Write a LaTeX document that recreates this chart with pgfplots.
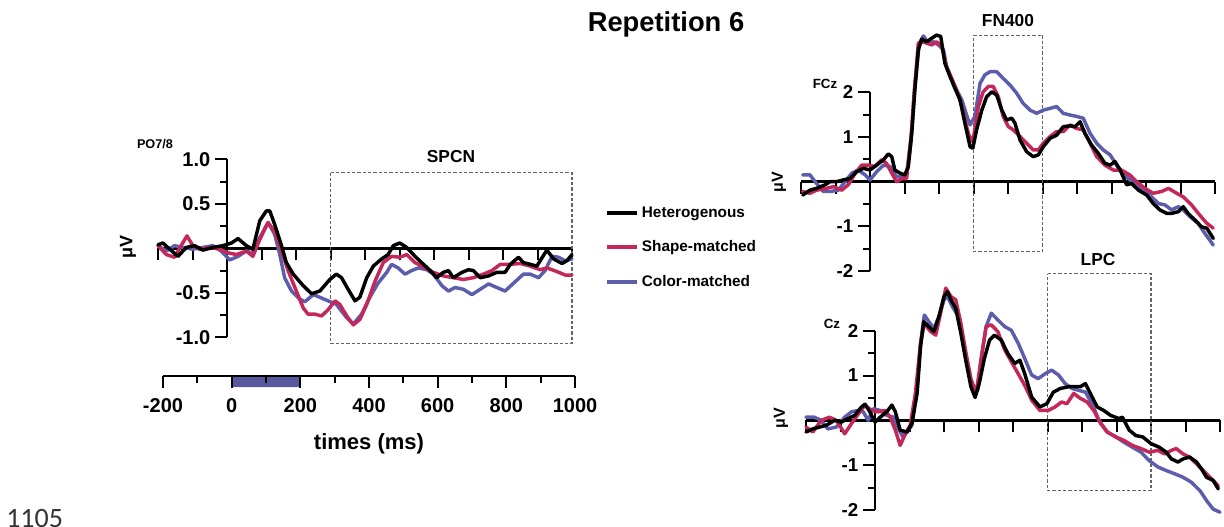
\documentclass[border=0pt]{standalone}
\usepackage{fontspec}
\setmainfont{Liberation Sans}
\newfontfamily\carlito{Carlito}
\usepackage{pgfplots}
\pgfplotsset{compat=1.18}
\definecolor{redc}{RGB}{196,40,90}
\definecolor{bluec}{RGB}{92,94,172}
\definecolor{barc}{RGB}{88,88,158}
\definecolor{boxgray}{RGB}{100,100,100}
\pgfplotsset{
 erp/.style={
  scale only axis, axis lines=middle, axis line style={line width=1.8pt,-},
  tick align=outside, major tick length=9pt, minor tick length=5pt,
  tick style={line width=1.5pt, black},
  xmin=-200, xmax=1000, xtick={-200,-100,...,1000}, xticklabels={},
  clip=false,
  /pgf/number format/assume math mode=true,
 },
 curve/.style={line width=2.6pt, line join=round, line cap=round},
 roi/.style={boxgray, line width=0.8pt, dash pattern=on 2.5pt off 1.5pt, forget plot},
}
\begin{document}
\begin{tikzpicture}
\path[use as bounding box] (0,0) rectangle (918pt,394.5pt);
% ---------------- left (PO7/8)
\begin{axis}[erp, at={(118.5pt,141.5pt)}, anchor=south west, width=310.5pt, height=133.5pt,
  yticklabel style={font=\bfseries\fontsize{15}{15}\selectfont},
  ymin=-1, ymax=1, ytick={-1,-0.5,0.5,1}, yticklabels={-1.0,-0.5,0.5,1.0},
  minor ytick={-0.75,-0.25,0.25,0.75},
  reverse legend,
  legend style={draw=none, fill=none, at={(1.07,0.765)}, anchor=north west,
    font=\bfseries\fontsize{11.5}{11.5}\selectfont, row sep=12pt},
  legend cell align=left,
  legend image code/.code={\draw[#1, line width=3pt, line cap=butt] (0pt,0pt) -- (22.5pt,0pt);}]
\addplot[roi] coordinates {(300,0.85) (1000,0.85) (1000,-1.07) (300,-1.07) (300,0.85)};
\addplot[curve, bluec] coordinates {(-200,0.03) (-176,-0.03) (-152,0.03) (-128,0.01) (-99,-0.01) (-70,0.01) (-41,0.03) (-17,-0.03) (8,-0.13) (32,-0.09) (56,-0.03) (75,-0.06) (95,0.12) (119,0.29) (138,0.16) (153,-0.07) (167,-0.33) (187,-0.48) (211,-0.57) (226,-0.60) (250,-0.52) (269,-0.55) (293,-0.59) (317,-0.63) (347,-0.78) (366,-0.85) (390,-0.74) (414,-0.55) (438,-0.39) (463,-0.27) (477,-0.18) (496,-0.22) (516,-0.29) (535,-0.25) (555,-0.22) (579,-0.24) (598,-0.29) (623,-0.42) (642,-0.48) (661,-0.44) (685,-0.46) (710,-0.52) (734,-0.46) (758,-0.40) (782,-0.44) (806,-0.48) (831,-0.39) (859,-0.29) (879,-0.29) (903,-0.33) (922,-0.25) (942,-0.09) (961,-0.10) (980,-0.14) (1000,-0.12)};
\addlegendentry{Color-matched}
\addplot[curve, redc] coordinates {(-200,0.03) (-176,-0.07) (-152,-0.10) (-133,0.03) (-116,0.14) (-99,0.03) (-79,-0.01) (-50,0.01) (-21,-0.01) (3,-0.05) (27,-0.07) (56,-0.03) (75,-0.09) (95,0.10) (119,0.29) (138,0.19) (158,-0.03) (177,-0.25) (201,-0.48) (221,-0.67) (235,-0.74) (255,-0.74) (274,-0.76) (293,-0.69) (313,-0.59) (327,-0.63) (347,-0.76) (366,-0.86) (385,-0.80) (405,-0.63) (429,-0.37) (453,-0.16) (477,-0.09) (501,-0.10) (521,-0.07) (545,-0.16) (574,-0.22) (598,-0.27) (627,-0.31) (656,-0.33) (685,-0.35) (714,-0.33) (743,-0.29) (768,-0.25) (792,-0.18) (821,-0.18) (850,-0.17) (879,-0.20) (908,-0.24) (927,-0.22) (956,-0.26) (980,-0.30) (1000,-0.30)};
\addlegendentry{Shape-matched}
\addplot[curve, black] coordinates {(-200,0.04) (-186,0.06) (-166,-0.01) (-142,-0.09) (-118,0.01) (-94,0.03) (-70,-0.02) (-41,0.01) (-12,0.03) (13,0.06) (32,0.11) (56,0.03) (75,-0.01) (95,0.31) (114,0.42) (124,0.42) (138,0.27) (158,0.03) (172,-0.16) (192,-0.29) (221,-0.42) (245,-0.51) (269,-0.48) (298,-0.35) (317,-0.29) (332,-0.33) (351,-0.46) (371,-0.59) (385,-0.55) (405,-0.33) (424,-0.2) (448,-0.12) (467,-0.07) (482,0.03) (501,0.06) (521,0.01) (545,-0.09) (564,-0.16) (589,-0.25) (608,-0.33) (627,-0.27) (642,-0.25) (656,-0.33) (681,-0.27) (700,-0.24) (714,-0.25) (734,-0.33) (758,-0.31) (782,-0.27) (806,-0.27) (821,-0.18) (845,-0.10) (859,-0.16) (879,-0.18) (898,-0.2) (927,-0.02) (947,-0.12) (971,-0.17) (985,-0.14) (1000,-0.07)};
\addlegendentry{Heterogenous}
\end{axis}
% ---------------- bottom time axis
\begin{axis}[scale only axis, at={(122.25pt,112.5pt)}, anchor=south west, width=309pt, height=8.25pt,
  xmin=-200, xmax=1000, ymin=0, ymax=1, axis x line=bottom, axis y line=none,
  axis line style={line width=1.8pt,-}, xtick={-200,0,...,1000}, minor xtick={-100,100,...,900},
  tick align=outside, major tick length=9pt, minor tick length=5pt,
  tick style={line width=1.5pt,black},
  xticklabel style={font=\bfseries\fontsize{15}{15}\selectfont, yshift=-4pt},
  /pgf/number format/assume math mode=true, /pgf/number format/1000 sep={},
  clip=false, axis on top,
  xlabel={times (ms)}, xlabel style={font=\bfseries\fontsize{16.5}{16.5}\selectfont, yshift=-9pt}]
\addplot[fill=barc, draw=none] coordinates {(0,0) (200,0) (200,-1) (0,-1) (0,0)};
\end{axis}
% ---------------- right top (FCz)
\begin{axis}[erp, at={(600.75pt,191.2pt)}, anchor=south west, width=310.5pt, height=134.1pt,
  yticklabel style={font=\bfseries\fontsize{14}{14}\selectfont},
  ymin=-2, ymax=2, ytick={-2,-1,1,2}, yticklabels={-2,-1,1,2}, minor ytick={-1.5,-0.5,0.5,1.5}]
\addplot[roi] coordinates {(300,3.28) (500,3.28) (500,-1.57) (300,-1.57) (300,3.28)};
\addplot[curve, bluec] coordinates {(-195,0.15) (-174,0.15) (-155,-0.04) (-135,-0.22) (-116,-0.22) (-92,-0.19) (-72,0.0) (-53,0.19) (-34,0.26) (-14,0.15) (0,0.04) (19,0.22) (39,0.37) (58,0.34) (77,0.11) (92,0.11) (106,0.15) (121,1.16) (130,2.13) (143,3.10) (155,3.26) (169,3.10) (184,3.13) (198,3.06) (213,2.95) (222,2.57) (237,2.28) (251,2.05) (266,1.83) (280,1.49) (290,1.27) (304,1.46) (319,2.20) (333,2.39) (348,2.46) (367,2.46) (386,2.31) (406,2.16) (425,1.98) (444,1.75) (464,1.60) (483,1.53) (502,1.60) (522,1.64) (541,1.68) (560,1.53) (580,1.49) (599,1.46) (618,1.42) (638,1.08) (657,0.86) (676,0.71) (696,0.60) (715,0.37) (734,0.19) (753,0.04) (773,-0.07) (792,-0.19) (811,-0.30) (836,-0.49) (855,-0.52) (874,-0.63) (894,-0.56) (908,-0.63) (927,-0.78) (951,-0.93) (971,-1.16) (985,-1.31) (995,-1.42)};
\addplot[curve, redc] coordinates {(-195,-0.22) (-174,-0.26) (-155,-0.19) (-126,-0.15) (-106,-0.11) (-82,-0.19) (-63,-0.07) (-43,0.19) (-24,0.37) (-5,0.37) (14,0.34) (34,0.49) (48,0.41) (63,0.19) (77,0.0) (92,0.07) (106,0.07) (118,0.86) (127,1.90) (140,3.10) (150,3.13) (164,3.10) (179,3.06) (193,3.13) (208,3.02) (222,2.57) (237,2.31) (251,2.05) (266,1.68) (280,1.23) (292,0.90) (301,1.04) (314,1.68) (328,2.01) (343,2.13) (357,2.13) (372,1.90) (386,1.46) (401,1.23) (415,1.16) (435,1.01) (454,0.86) (473,0.71) (488,0.71) (502,0.86) (522,1.01) (541,1.12) (560,1.12) (580,1.27) (599,1.19) (618,1.16) (638,0.86) (657,0.56) (681,0.37) (705,0.26) (729,0.26) (753,0.15) (773,0.0) (797,-0.15) (821,-0.26) (845,-0.22) (865,-0.15) (889,-0.26) (908,-0.34) (932,-0.52) (956,-0.75) (976,-0.93) (995,-1.04)};
\addplot[curve, black] coordinates {(-195,-0.30) (-174,-0.19) (-155,-0.15) (-130,-0.07) (-116,0.0) (-97,0) (-77,0.04) (-58,0.07) (-39,0.22) (-19,0.30) (0,0.26) (19,0.37) (39,0.49) (53,0.62) (63,0.56) (72,0.26) (87,0.19) (101,0.15) (111,0.34) (121,1.08) (130,2.05) (140,2.95) (150,3.19) (164,3.13) (179,3.21) (193,3.28) (205,3.25) (217,2.65) (232,2.35) (246,2.09) (261,1.83) (275,1.31) (290,0.78) (298,0.75) (309,1.16) (324,1.60) (338,1.90) (353,2.01) (367,1.94) (382,1.60) (396,1.38) (411,1.42) (420,1.31) (435,0.93) (454,0.67) (473,0.56) (488,0.60) (502,0.78) (522,0.97) (541,1.04) (560,1.23) (580,1.25) (594,1.23) (609,1.34) (623,1.08) (642,0.82) (662,0.63) (681,0.41) (696,0.37) (710,0.45) (725,0.26) (744,-0.07) (758,-0.04) (778,-0.19) (802,-0.30) (821,-0.49) (840,-0.63) (860,-0.71) (874,-0.71) (894,-0.67) (908,-0.56) (922,-0.71) (942,-0.86) (961,-1.01) (976,-1.04) (995,-1.27)};
\end{axis}
% ---------------- right bottom (Cz)
\begin{axis}[erp, at={(604.5pt,12pt)}, anchor=south west, width=310.5pt, height=134.5pt,
  yticklabel style={font=\bfseries\fontsize{14}{14}\selectfont},
  ymin=-2, ymax=2, ytick={-2,-1,1,2}, yticklabels={-2,-1,1,2}, minor ytick={-1.5,-0.5,0.5,1.5}]
\addplot[roi] coordinates {(500,3.27) (800,3.27) (800,-1.57) (500,-1.57) (500,3.27)};
\addplot[curve, bluec] coordinates {(-200,0.07) (-176,0.07) (-156,0.0) (-137,-0.19) (-112,-0.15) (-88,0.07) (-68,0.19) (-49,0.22) (-34,0.19) (-20,0.0) (-5,0.26) (15,0.22) (34,0.11) (54,0.07) (68,-0.19) (81,-0.37) (93,-0.26) (107,-0.11) (122,0.75) (132,1.72) (143,2.35) (156,2.20) (171,2.05) (185,2.31) (200,2.69) (210,2.76) (224,2.54) (239,2.35) (254,1.79) (268,1.27) (283,0.67) (298,0.67) (307,1.34) (322,2.09) (337,2.39) (356,2.24) (376,2.09) (395,2.01) (415,1.72) (434,1.38) (454,1.01) (473,0.93) (493,1.04) (512,1.12) (532,1.01) (551,0.82) (571,0.71) (590,0.67) (610,0.63) (629,0.37) (649,0.0) (673,-0.26) (698,-0.37) (722,-0.49) (746,-0.60) (771,-0.71) (795,-0.90) (820,-1.04) (844,-1.12) (868,-1.19) (893,-1.27) (917,-1.38) (942,-1.57) (961,-1.79) (980,-1.98) (1000,-2.05)};
\addplot[curve, redc] coordinates {(-200,-0.15) (-180,-0.26) (-156,0.0) (-132,0.07) (-112,0.0) (-88,-0.30) (-68,-0.07) (-44,0.19) (-29,0.34) (-10,0.22) (10,0.19) (29,0.22) (44,0.07) (59,-0.22) (73,-0.56) (88,-0.30) (102,-0.11) (117,0.60) (132,1.72) (143,2.16) (161,1.98) (176,1.90) (190,2.39) (205,2.95) (220,2.76) (234,2.69) (249,2.16) (263,1.53) (278,0.93) (293,0.60) (307,1.34) (322,2.09) (337,2.13) (356,1.98) (376,1.57) (395,1.31) (415,1.04) (434,0.78) (454,0.45) (478,0.22) (502,0.22) (522,0.30) (541,0.41) (556,0.37) (576,0.60) (595,0.49) (615,0.41) (634,0.22) (654,-0.07) (673,-0.26) (698,-0.37) (722,-0.45) (746,-0.56) (771,-0.63) (795,-0.71) (820,-0.67) (839,-0.75) (859,-0.67) (873,-0.63) (893,-0.75) (912,-0.82) (932,-0.97) (951,-1.12) (971,-1.27) (995,-1.46)};
\addplot[curve, black] coordinates {(-200,-0.26) (-180,-0.19) (-161,-0.15) (-141,-0.11) (-117,0.0) (-98,-0.04) (-78,0.04) (-59,0.11) (-39,0.30) (-29,0.36) (-15,0.19) (0,-0.04) (15,0.07) (34,0.19) (49,0.34) (59,0.19) (73,-0.22) (93,-0.26) (107,-0.07) (122,0.60) (132,1.64) (141,2.20) (156,2.09) (171,1.98) (185,2.31) (200,2.76) (210,2.87) (220,2.69) (234,2.50) (249,1.94) (263,1.34) (278,0.75) (290,0.51) (302,0.82) (317,1.38) (332,1.79) (346,1.90) (366,1.79) (385,1.49) (405,1.27) (420,1.34) (434,1.04) (454,0.52) (478,0.30) (498,0.37) (517,0.63) (537,0.71) (561,0.75) (580,0.75) (595,0.75) (610,0.82) (624,0.60) (644,0.30) (663,0.22) (683,0.11) (707,0.04) (717,0.07) (737,-0.22) (756,-0.34) (776,-0.37) (800,-0.52) (824,-0.60) (844,-0.71) (859,-0.86) (878,-0.93) (893,-0.86) (912,-0.82) (932,-0.93) (946,-1.08) (961,-1.27) (980,-1.34) (995,-1.53)};
\end{axis}
% ---------------- texts
\node[font=\bfseries\fontsize{20.5}{20.5}\selectfont] at (499.5pt,376.5pt) {Repetition 6};
\node[font=\bfseries\fontsize{13}{13}\selectfont] at (338.25pt,276.75pt) {SPCN};
\node[font=\bfseries\fontsize{13}{13}\selectfont] at (756pt,378.75pt) {FN400};
\node[font=\bfseries\fontsize{13}{13}\selectfont] at (823.5pt,199.5pt) {LPC};
\node[font=\bfseries\fontsize{9.5}{9.5}\selectfont] at (116.25pt,286.5pt) {PO7/8};
\node[font=\bfseries\fontsize{10}{10}\selectfont] at (618.75pt,331.5pt) {FCz};
\node[font=\bfseries\fontsize{10}{10}\selectfont] at (624pt,151.5pt) {Cz};
\node[font=\bfseries\fontsize{13.5}{13.5}\selectfont, rotate=90] at (96pt,209.25pt) {μV};
\node[font=\bfseries\fontsize{12}{12}\selectfont, rotate=90] at (584.25pt,258pt) {μV};
\node[font=\bfseries\fontsize{12}{12}\selectfont, rotate=90] at (585.75pt,81pt) {μV};
\node[font=\carlito\fontsize{21}{21}\selectfont, text=black!80, anchor=base west, inner sep=0pt] at (4.5pt,-0.75pt) {1105};
\end{tikzpicture}
\end{document}
